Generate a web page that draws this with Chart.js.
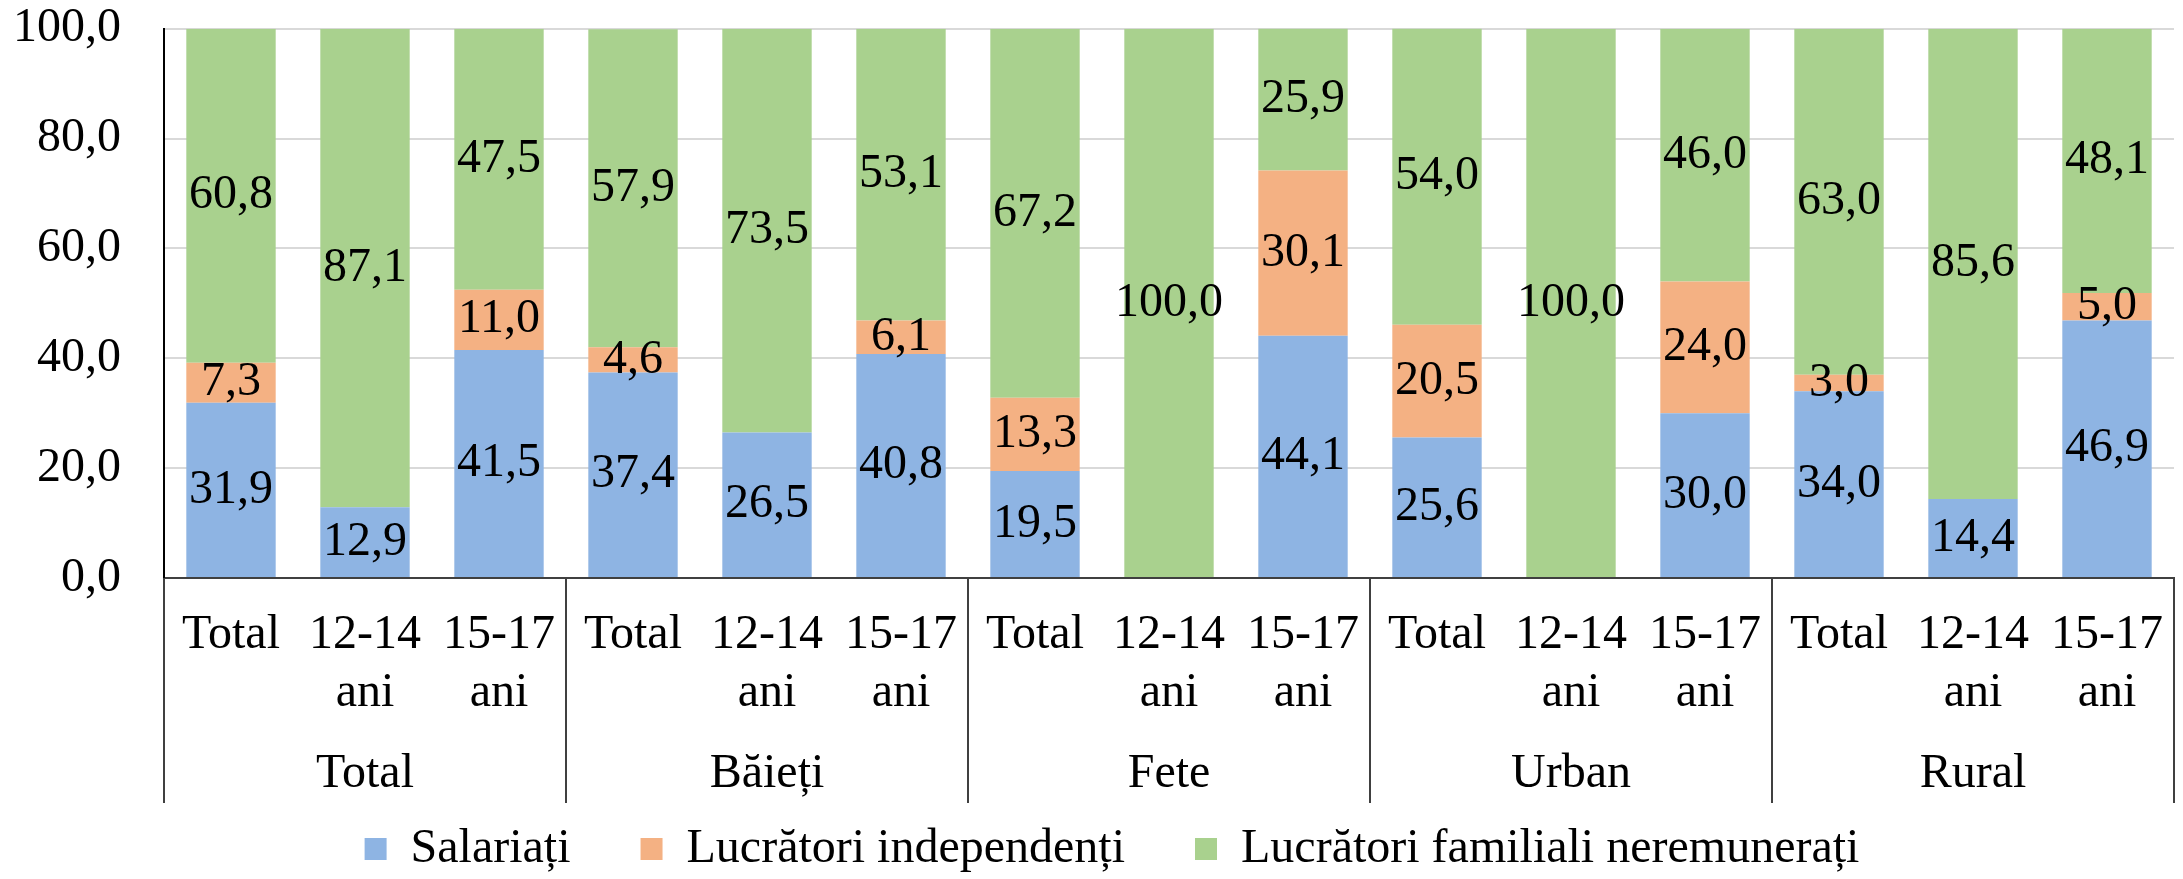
<!DOCTYPE html>
<html>
<head>
<meta charset="utf-8">
<script src="https://cdn.jsdelivr.net/npm/chart.js@4.4.0/dist/chart.umd.min.js"></script>
<style>
    html, body { margin: 0; padding: 0; background: #fff; }
    #wrap { width: 2183px; height: 879px; }
</style>
</head>
<body>
<div id="wrap"><canvas id="chart"></canvas></div>
<script>
// --- Data ---
const groups = ['Total', 'Băieți', 'Fete', 'Urban', 'Rural'];
const ageLabels = [['Total'], ['12-14', 'ani'], ['15-17', 'ani']];
const seriesNames = ['Salariați', 'Lucrători independenți', 'Lucrători familiali neremunerați'];
const salariati = [31.9, 12.9, 41.5, 37.4, 26.5, 40.8, 19.5, 0, 44.1, 25.6, 0, 30.0, 34.0, 14.4, 46.9];
const independenti = [7.3, 0, 11.0, 4.6, 0, 6.1, 13.3, 0, 30.1, 20.5, 0, 24.0, 3.0, 0, 5.0];
const familiali = [60.8, 87.1, 47.5, 57.9, 73.5, 53.1, 67.2, 100.0, 25.9, 54.0, 100.0, 46.0, 63.0, 85.6, 48.1];
const yTicks = [0, 20, 40, 60, 80, 100];

// --- Settings ---
const FONT = "'Liberation Serif', 'Times New Roman', serif";
const FONT_SIZE = 48;
const LEGEND_PAD = 70;
const LEGEND_SHIFT = 25;
const PLOT_BOTTOM = 578;
const LAYOUT_BOTTOM = -4;
const categories = groups.flatMap(() => ageLabels);
const fmt = v => v.toFixed(1).replace('.', ',');

/** Data labels centred in each segment **/
const segmentLabels = {
    id: 'segmentLabels',
    afterDatasetsDraw(chart) {
        const ctx = chart.ctx;
        ctx.save();
        ctx.font = `${FONT_SIZE}px ${FONT}`;
        ctx.fillStyle = '#000';
        ctx.textAlign = 'center';
        ctx.textBaseline = 'middle';
        chart.data.datasets.forEach((ds, i) => {
            chart.getDatasetMeta(i).data.forEach((bar, j) => {
                const v = ds.data[j];
                if (!v) return;
                const p = bar.getProps(['x', 'y', 'base'], true);
                ctx.fillText(fmt(v), p.x, (p.y + p.base) / 2);
            });
        });
        ctx.restore();
    }
};

/** Second axis row: group names and separators **/
const groupAxis = {
    id: 'groupAxis',
    afterLayout(chart) {
        // Excel centres the legend a little to the right of the canvas centre
        if (chart.legend) {
            chart.legend.left += LEGEND_SHIFT;
            chart.legend.right += LEGEND_SHIFT;
        }
    },
    afterDraw(chart) {
        const ctx = chart.ctx;
        const x = chart.scales.x;
        const area = chart.chartArea;
        const size = ageLabels.length;
        ctx.save();
        ctx.strokeStyle = '#404040';
        ctx.lineWidth = 2;
        for (let g = 0; g <= groups.length; g++) {
            let px;
            if (g === 0) px = area.left;
            else if (g === groups.length) px = area.right;
            else px = (x.getPixelForValue(g * size - 1) + x.getPixelForValue(g * size)) / 2;
            ctx.beginPath();
            ctx.moveTo(px, area.bottom);
            ctx.lineTo(px, area.bottom + 225);
            ctx.stroke();
        }
        ctx.font = `${FONT_SIZE}px ${FONT}`;
        ctx.fillStyle = '#000';
        ctx.textAlign = 'center';
        ctx.textBaseline = 'middle';
        groups.forEach((name, g) => {
            ctx.fillText(name, x.getPixelForValue(g * size + 1), area.bottom + 196);
        });
        ctx.restore();
    }
};

const colors = ['#8EB4E3', '#F4B183', '#A9D18E'];
const values = [salariati, independenti, familiali];

new Chart(document.getElementById('chart'), {
    type: 'bar',
    data: {
        labels: categories,
        datasets: values.map((data, i) => ({
            label: seriesNames[i],
            data: data,
            backgroundColor: colors[i],
            borderWidth: 0,
            categoryPercentage: 1,
            barPercentage: 0.667
        }))
    },
    options: {
        responsive: true,
        maintainAspectRatio: false,
        animation: false,
        layout: { padding: { top: 28, right: 9, left: 0, bottom: LAYOUT_BOTTOM } },
        plugins: {
            tooltip: { enabled: false },
            legend: {
                position: 'bottom',
                labels: {
                    boxWidth: 22,
                    boxHeight: 22,
                    padding: LEGEND_PAD,
                    color: '#000',
                    font: { family: FONT, size: FONT_SIZE }
                }
            }
        },
        scales: {
            x: {
                stacked: true,
                grid: { display: true, drawOnChartArea: false, drawTicks: true, tickLength: 29, tickColor: 'rgba(0,0,0,0)' },
                border: { display: true, color: '#404040', width: 2 },
                ticks: {
                    color: '#000',
                    padding: 0,
                    maxRotation: 0,
                    autoSkip: false,
                    font: { family: FONT, size: FONT_SIZE }
                },
                afterFit(scale) {
                    scale.height = 879 - PLOT_BOTTOM - (FONT_SIZE + LEGEND_PAD + 10) - LAYOUT_BOTTOM;
                }
            },
            y: {
                stacked: true,
                min: 0,
                max: 100,
                grid: { color: '#D9D9D9', lineWidth: 2, drawTicks: true, tickLength: 43, tickColor: 'rgba(0,0,0,0)' },
                border: { display: true, color: '#000', width: 2 },
                ticks: {
                    color: '#000',
                    padding: 0,
                    callback: v => fmt(v),
                    font: { family: FONT, size: FONT_SIZE }
                },
                afterBuildTicks(scale) {
                    scale.ticks = yTicks.map(v => ({ value: v }));
                },
                afterFit(scale) {
                    scale.width = 164;
                }
            }
        }
    },
    plugins: [segmentLabels, groupAxis]
});
</script>
</body>
</html>
